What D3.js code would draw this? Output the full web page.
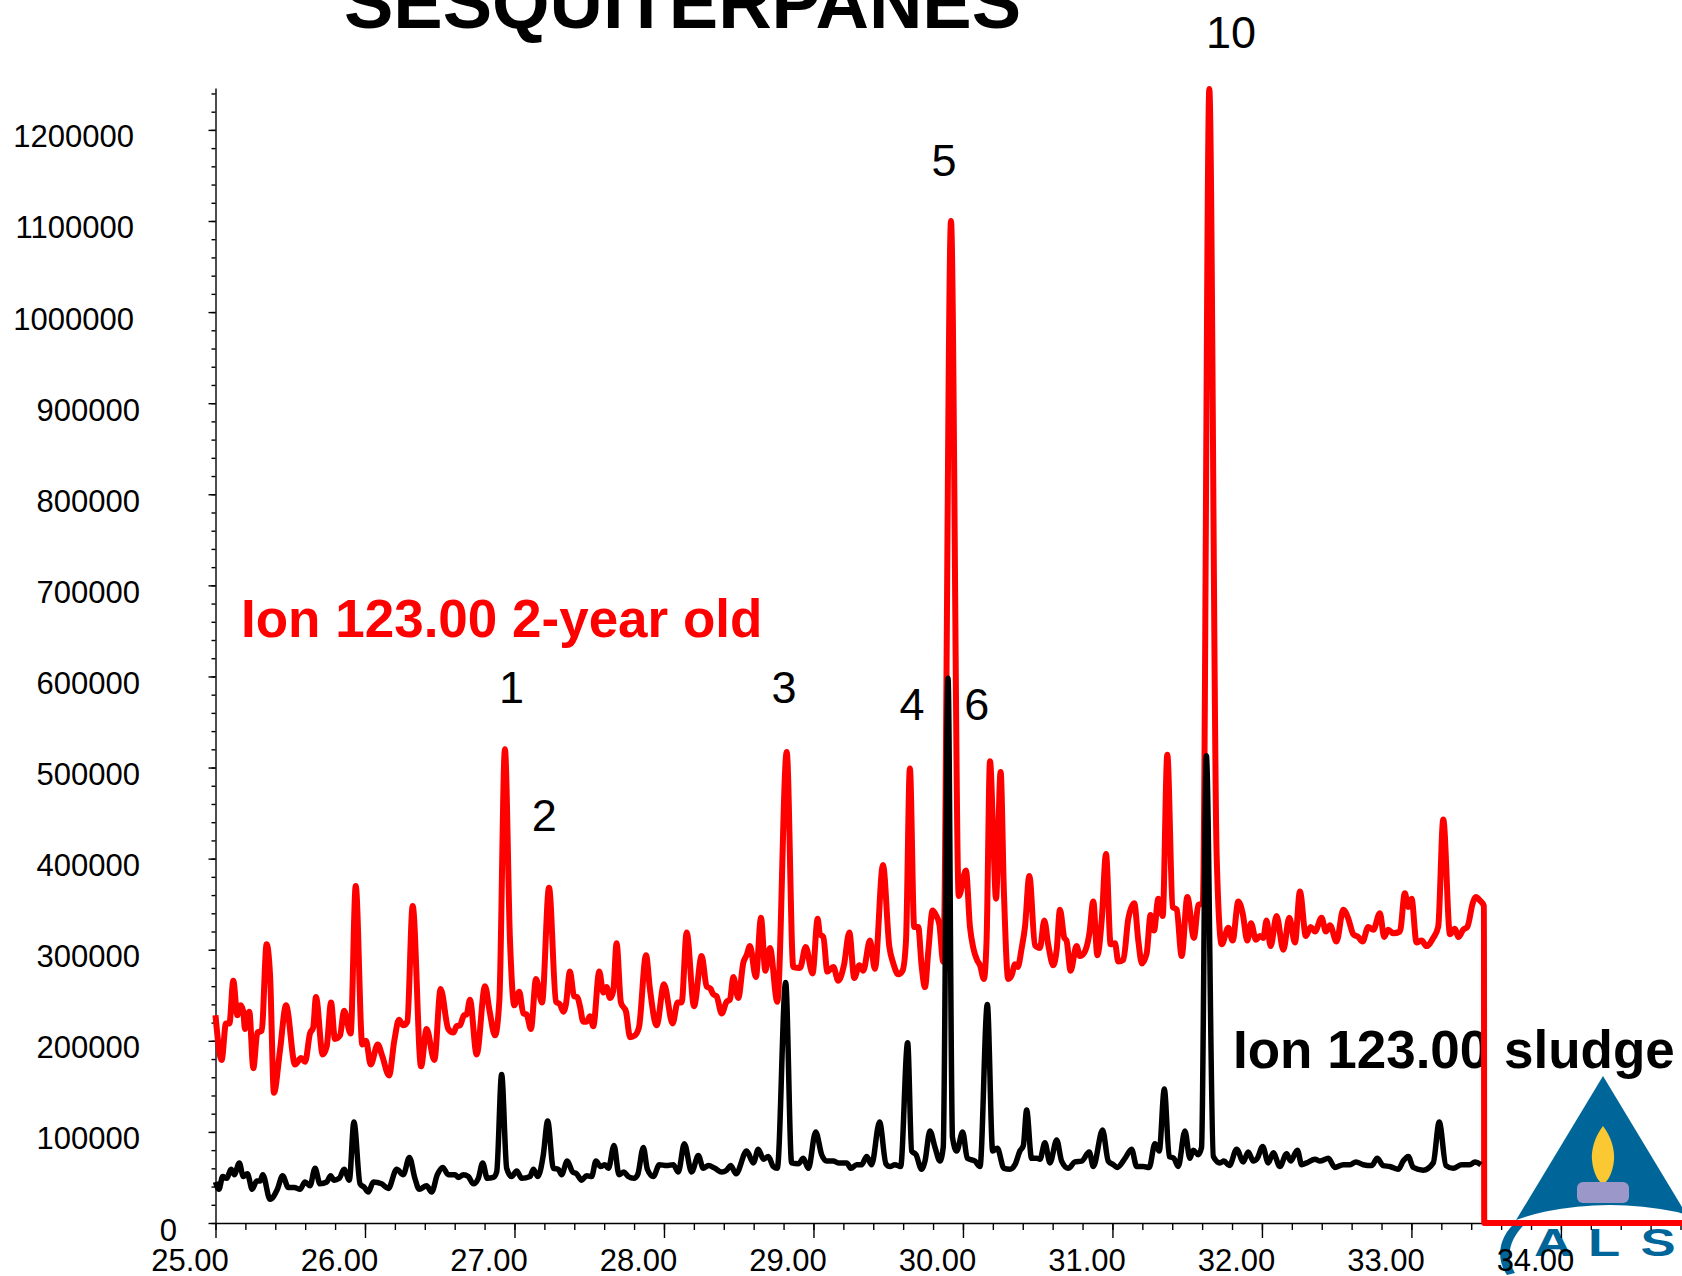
<!DOCTYPE html>
<html>
<head>
<meta charset="utf-8">
<script src="https://cdn.jsdelivr.net/npm/d3@7"></script>
<style>
  body { margin: 0; background: #fff; }
  svg { display: block; }
  text { font-family: "Liberation Sans", Arial, sans-serif; }
</style>
</head>
<body>
<div id="chart"></div>
<script>
// ---- data (time in min, abundance) ----
var redTime = [25.000,25.041,25.070,25.093,25.119,25.146,25.168,25.186,25.197,25.226,25.253,25.280,25.309,25.342,25.365,25.391,25.431,25.472,25.532,25.572,25.599,25.632,25.654,25.672,25.717,25.744,25.773,25.799,25.833,25.860,25.904,25.938,25.982,26.007,26.038,26.085,26.116,26.161,26.196,26.227,26.256,26.283,26.319,26.375,26.412,26.464,26.506,26.557,26.591,26.613,26.635,26.662,26.680,26.702,26.747,26.803,26.832,26.870,26.899,26.936,26.970,26.999,27.032,27.059,27.081,27.110,27.144,27.184,27.231,27.278,27.304,27.327,27.344,27.371,27.398,27.420,27.438,27.460,27.483,27.505,27.527,27.567,27.594,27.616,27.639,27.661,27.683,27.712,27.746,27.773,27.806,27.833,27.880,27.906,27.951,28.000,28.058,28.091,28.118,28.152,28.201,28.252,28.285,28.312,28.330,28.352,28.386,28.419,28.441,28.464,28.497,28.531,28.553,28.575,28.615,28.649,28.678,28.709,28.758,28.821,28.865,28.910,28.948,28.994,29.028,29.043,29.066,29.093,29.133,29.166,29.204,29.240,29.273,29.307,29.333,29.378,29.411,29.465,29.507,29.534,29.568,29.596,29.619,29.645,29.674,29.701,29.723,29.746,29.768,29.797,29.819,29.842,29.868,29.920,29.972,30.020,30.047,30.069,30.096,30.114,30.140,30.158,30.181,30.203,30.221,30.252,30.274,30.303,30.326,30.348,30.366,30.393,30.415,30.444,30.482,30.515,30.544,30.571,30.604,30.627,30.649,30.678,30.693,30.720,30.760,30.783,30.809,30.845,30.872,30.899,30.928,30.957,30.988,31.017,31.039,31.073,31.106,31.146,31.173,31.197,31.229,31.255,31.278,31.307,31.336,31.367,31.403,31.430,31.463,31.501,31.545,31.574,31.604,31.648,31.697,31.731,31.775,31.804,31.842,31.871,31.902,31.927,31.960,31.987,32.009,32.031,32.058,32.098,32.143,32.183,32.221,32.254,32.294,32.326,32.355,32.399,32.428,32.455,32.499,32.544,32.578,32.611,32.644,32.673,32.711,32.745,32.789,32.818,32.845,32.878,32.923,32.956,32.979,33.001,33.034,33.068,33.101,33.146,33.179,33.213,33.258,33.291,33.314,33.347,33.374,33.410,33.432,33.458,33.485,33.487,34.810];
var redValue = [228000,179000,219000,219000,266000,228000,239000,232000,213000,232000,170000,209000,211000,306000,272000,143000,189000,239000,174000,181000,177000,208000,215000,248000,185000,194000,242000,202000,206000,233000,208000,370000,196000,200000,174000,196000,183000,162000,200000,223000,217000,221000,348000,172000,213000,179000,257000,213000,209000,216000,217000,228000,229000,245000,185000,260000,234000,206000,245000,520000,310000,239000,254000,230000,229000,213000,268000,242000,368000,243000,240000,232000,240000,276000,249000,248000,238000,221000,221000,227000,216000,276000,253000,259000,247000,255000,307000,242000,232000,204000,206000,215000,294000,257000,217000,262000,219000,242000,242000,319000,238000,293000,260000,257000,251000,249000,230000,243000,245000,270000,247000,286000,294000,304000,270000,335000,277000,302000,243000,517000,281000,280000,303000,274000,334000,317000,314000,276000,281000,266000,283000,319000,269000,283000,277000,310000,279000,393000,304000,285000,273000,277000,310000,499000,325000,325000,283000,259000,298000,343000,338000,328000,287000,1100000,359000,387000,325000,302000,288000,283000,268000,310000,507000,423000,356000,495000,363000,268000,272000,284000,281000,302000,325000,381000,305000,302000,332000,305000,283000,300000,344000,313000,310000,277000,304000,293000,296000,317000,353000,294000,332000,405000,306000,307000,287000,289000,334000,351000,310000,285000,296000,338000,321000,356000,337000,514000,347000,344000,293000,358000,313000,349000,351000,1245000,404000,306000,324000,310000,353000,340000,310000,329000,311000,315000,313000,332000,304000,337000,300000,335000,308000,364000,315000,325000,320000,335000,320000,327000,309000,344000,334000,317000,314000,309000,325000,322000,340000,314000,322000,318000,320000,362000,347000,356000,308000,310000,304000,313000,325000,443000,317000,323000,314000,322000,325000,351000,358000,354000,348000,0,0];

var blackTime = [25.000,25.023,25.048,25.075,25.104,25.126,25.159,25.186,25.213,25.246,25.275,25.298,25.316,25.365,25.414,25.449,25.487,25.527,25.565,25.599,25.632,25.666,25.699,25.744,25.770,25.793,25.828,25.860,25.895,25.926,25.967,25.996,26.022,26.056,26.111,26.156,26.212,26.256,26.297,26.334,26.363,26.412,26.446,26.484,26.520,26.557,26.602,26.624,26.658,26.691,26.725,26.758,26.787,26.818,26.858,26.881,26.914,26.948,26.981,27.015,27.048,27.104,27.126,27.156,27.193,27.222,27.260,27.293,27.315,27.353,27.389,27.416,27.449,27.483,27.516,27.545,27.576,27.605,27.628,27.666,27.699,27.732,27.761,27.799,27.824,27.862,27.889,27.929,27.969,28.018,28.062,28.096,28.136,28.185,28.230,28.263,28.297,28.341,28.386,28.419,28.446,28.482,28.553,28.598,28.631,28.665,28.698,28.731,28.758,28.814,28.854,28.899,28.932,28.966,29.015,29.055,29.088,29.133,29.166,29.222,29.251,29.289,29.322,29.356,29.389,29.442,29.485,29.512,29.545,29.583,29.630,29.657,29.686,29.723,29.746,29.779,29.813,29.846,29.868,29.900,29.930,29.958,29.998,30.029,30.080,30.114,30.163,30.199,30.230,30.274,30.314,30.348,30.381,30.404,30.426,30.459,30.493,30.515,30.548,30.582,30.627,30.660,30.705,30.749,30.794,30.845,30.872,30.934,30.972,31.006,31.032,31.084,31.128,31.162,31.206,31.246,31.284,31.313,31.347,31.380,31.411,31.440,31.485,31.518,31.540,31.574,31.596,31.628,31.675,31.719,31.746,31.782,31.831,31.875,31.908,31.942,31.969,32.005,32.042,32.076,32.120,32.165,32.192,32.237,32.266,32.299,32.355,32.388,32.444,32.488,32.544,32.589,32.629,32.678,32.734,32.771,32.811,32.856,32.912,32.945,32.979,33.012,33.079,33.146,33.186,33.231,33.280,33.336,33.391,33.425,33.465];
var blackValue = [45000,37000,51000,49000,59000,53000,66000,51000,54000,37000,46000,46000,53000,26000,37000,52000,39000,39000,37000,45000,41000,60000,43000,45000,52000,47000,49000,59000,47000,111000,43000,39000,34000,45000,43000,38000,59000,53000,72000,49000,37000,41000,34000,53000,61000,53000,53000,50000,53000,51000,43000,49000,66000,49000,50000,56000,163000,60000,51000,57000,49000,51000,59000,51000,75000,112000,60000,59000,53000,68000,56000,54000,47000,52000,51000,68000,62000,64000,60000,85000,53000,56000,51000,49000,53000,83000,59000,51000,64000,63000,64000,56000,87000,56000,74000,60000,63000,60000,56000,58000,63000,54000,79000,66000,81000,70000,73000,62000,60000,264000,66000,65000,71000,60000,100000,75000,68000,68000,66000,66000,60000,64000,64000,73000,64000,111000,65000,62000,64000,62000,198000,79000,75000,59000,68000,101000,83000,68000,83000,598000,94000,79000,100000,71000,68000,62000,240000,79000,82000,60000,59000,64000,79000,85000,124000,71000,71000,70000,88000,66000,91000,68000,60000,67000,68000,78000,62000,102000,68000,64000,61000,71000,81000,62000,62000,61000,87000,79000,147000,73000,71000,62000,101000,71000,80000,75000,83000,513000,73000,66000,68000,63000,81000,67000,78000,68000,71000,84000,66000,77000,62000,76000,68000,80000,64000,66000,70000,68000,71000,61000,64000,64000,67000,64000,63000,71000,63000,62000,59000,68000,73000,61000,58000,66000,111000,63000,60000,64000,64000,67000,64000];

// peak numbers written above the traces
var peakNames = ["1", "2", "3", "4", "5", "6", "10"];
var peakTimes = [26.980, 27.200, 28.803, 29.659, 29.873, 30.092, 31.793];
var peakLevels = [571000, 430000, 571000, 552000, 1149000, 552000, 1290000];

// axis ticks
var xMajorTicks = [25, 26, 27, 28, 29, 30, 31, 32, 33, 34];
var yMajorTicks = [0, 100000, 200000, 300000, 400000, 500000, 600000, 700000, 800000, 900000, 1000000, 1100000, 1200000];

var svgWidth = 1682;
var svgHeight = 1276;

var svg = d3.select("#chart")
  .append("svg")
  .attr("width", svgWidth)
  .attr("height", svgHeight);

var xScale = d3.scaleLinear().domain([25, 34.81]).range([215.5, 1682]);
var yScale = d3.scaleLinear().domain([0, 1246000]).range([1223, 88]);

// ALS logo in the bottom right corner (drawn first, axis sits on top)
var blue = "#00669a";
var logo = svg.append("g");
logo.append("path")
  .attr("d", "M1603,1076 L1498,1250 L1708,1250 Z")
  .attr("fill", blue);
logo.append("ellipse")
  .attr("cx", 1610).attr("cy", 1292)
  .attr("rx", 168).attr("ry", 87)
  .attr("fill", "#fff");
logo.append("path")
  .attr("d", "M1603,1126 C1611,1136 1615,1150 1614,1160 C1613,1172 1608,1182 1603,1184 C1598,1182 1593,1172 1592,1160 C1591,1150 1595,1136 1603,1126 Z")
  .attr("fill", "#f9c832");
logo.append("rect")
  .attr("x", 1577).attr("y", 1182)
  .attr("width", 52).attr("height", 21)
  .attr("rx", 6)
  .attr("fill", "#9b98c9");
// swoosh round the letters
logo.append("path")
  .attr("d", "M1517,1221 C1499,1236 1495,1258 1507,1275 L1515,1273 C1505,1257 1509,1239 1526,1223 Z")
  .attr("fill", blue);
// wide letters A L S
var logoLetters = ["A", "L", "S"];
var logoCenters = [1553, 1604, 1658];
logo.selectAll(".logoLetter")
  .data(logoLetters)
  .enter()
  .append("text")
  .classed("logoLetter", true)
  .attr("transform", (d, i) => `translate(${logoCenters[i]},1256) scale(1.35,1)`)
  .attr("text-anchor", "middle")
  .attr("font-size", 39)
  .attr("font-weight", "bold")
  .attr("fill", blue)
  .text(d => d);

// x axis: major ticks with labels, minor ticks every 0.2 min
var xMinor = d3.range(25, 34.81, 0.2);
svg.append("g")
  .attr("transform", "translate(0,1223)")
  .call(d3.axisBottom(xScale).tickValues(xMinor).tickSize(7).tickSizeOuter(0).tickFormat(""))
  .call(g => g.select(".domain").remove());

var xAxis = svg.append("g")
  .attr("transform", "translate(0,1223)")
  .call(d3.axisBottom(xScale).tickValues(xMajorTicks).tickSize(15).tickSizeOuter(0).tickFormat(d3.format(".2f")));

xAxis.selectAll("text")
  .attr("y", 48)
  .attr("dy", null)
  .attr("dx", -26)
  .attr("font-size", 31)
  .attr("font-family", null)
  .attr("fill", "#000");

// y axis: major ticks with labels, minor ticks every 20000
svg.append("g")
  .attr("transform", "translate(215.5,0)")
  .call(d3.axisLeft(yScale).tickValues(d3.range(0, 1246000, 20000)).tickSize(4).tickSizeOuter(0).tickFormat(""))
  .call(g => g.select(".domain").remove());

var yAxis = svg.append("g")
  .attr("transform", "translate(215.5,0)")
  .call(d3.axisLeft(yScale).tickValues(yMajorTicks).tickSize(7).tickSizeOuter(0).tickFormat(d3.format("d")));

// label right edges differ a little by width in the original
yAxis.selectAll("text")
  .attr("x", d => d === 0 ? -38.5 : (d >= 1000000 ? -81.5 : -75.5))
  .attr("y", 17)
  .attr("dy", null)
  .attr("font-size", 31)
  .attr("font-family", null)
  .attr("fill", "#000");

svg.selectAll(".domain, .tick line")
  .attr("stroke", "#000")
  .attr("stroke-width", 1.4);

// title, cut off at the top edge
svg.append("text")
  .attr("x", 682.5)
  .attr("y", 28)
  .attr("text-anchor", "middle")
  .attr("font-size", 74)
  .attr("font-weight", "bold")
  .text("SESQUITERPANES");

// peak numbers
svg.selectAll(".peakLabel")
  .data(peakNames)
  .enter()
  .append("text")
  .classed("peakLabel", true)
  .attr("x", (d, i) => xScale(peakTimes[i]))
  .attr("y", (d, i) => yScale(peakLevels[i]))
  .attr("text-anchor", "middle")
  .attr("font-size", 45)
  .text(d => d);

// trace names
svg.append("text")
  .attr("x", 241)
  .attr("y", 637)
  .attr("font-size", 53)
  .attr("font-weight", "bold")
  .attr("fill", "#ff0000")
  .text("Ion 123.00 2-year old");

svg.append("text")
  .attr("x", 1233)
  .attr("y", 1068)
  .attr("font-size", 53)
  .attr("font-weight", "bold")
  .attr("fill", "#000")
  .text("Ion 123.00 sludge");

// the two chromatogram traces
var line = d3.line()
  .x(d => xScale(d[0]))
  .y(d => yScale(d[1]))
  .curve(d3.curveMonotoneX);

svg.append("path")
  .datum(d3.zip(redTime, redValue))
  .attr("fill", "none")
  .attr("stroke", "#ff0000")
  .attr("stroke-width", 6)
  .attr("stroke-linejoin", "round")
  .attr("d", line);

svg.append("path")
  .datum(d3.zip(blackTime, blackValue))
  .attr("fill", "none")
  .attr("stroke", "#000")
  .attr("stroke-width", 5.5)
  .attr("stroke-linejoin", "round")
  .attr("d", line);
</script>
</body>
</html>
